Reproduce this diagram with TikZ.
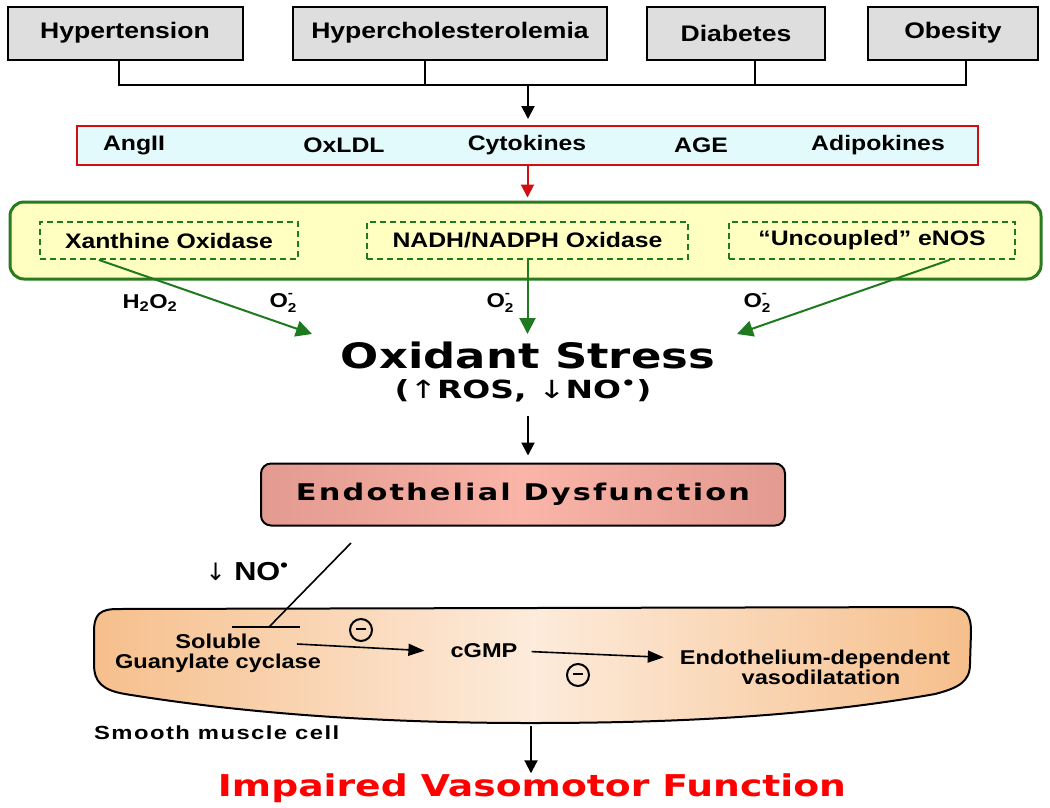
\documentclass[tikz,border=0pt]{standalone}
\usepackage{fontspec}
\usepackage{graphicx}
\setmainfont{Liberation Sans}[FakeStretch=1.18]
\newfontfamily\heavy{DejaVu Sans}
\newfontfamily\heavyspaced{DejaVu Sans}[LetterSpace=7]
\newfontfamily\smcfont{Liberation Sans}[LetterSpace=6]
\newfontfamily\arr{DejaVu Sans}
\usetikzlibrary{arrows.meta,calc}
\definecolor{boxgray}{HTML}{DEDEDE}
\definecolor{redb}{HTML}{D01010}
\definecolor{cyanf}{HTML}{E2FAFC}
\definecolor{greenb}{HTML}{2A7A1E}
\definecolor{yellowf}{HTML}{FFFFC2}
\definecolor{greena}{HTML}{1F7A1F}
\definecolor{endoA}{HTML}{E39A90}
\definecolor{endoB}{HTML}{FAB4A8}
\definecolor{cellA}{HTML}{F6BF8C}
\definecolor{cellB}{HTML}{FDEBDB}
\definecolor{impred}{HTML}{FF0000}
\newcommand{\fz}[1]{\fontsize{#1}{#1}\selectfont}
\newcommand{\Otwo}{O\rlap{\raisebox{0.9ex}{\fz{13}-}}\raisebox{-0.55ex}{\fz{13}2}}
\tikzset{
  topbox/.style={draw, line width=2pt, fill=boxgray, minimum height=53pt, inner sep=0pt, font=\fz{22.5}\bfseries},
  redtxt/.style={font=\fz{21}\bfseries, inner sep=0pt},
  dbox/.style={draw=greena, line width=1.8pt, dash pattern=on 6pt off 4pt, minimum height=37pt, inner sep=0pt, font=\fz{21}\bfseries},
  blackline/.style={line width=2pt, black},
  blackarrow/.style={line width=2pt, black, -{Triangle[width=13pt,length=13pt]}},
  greenarrow/.style={line width=2pt, greena, -{Triangle[width=16pt,length=16pt]}},
  lbl/.style={font=\fz{20}\bfseries, inner sep=0pt},
  celltxt/.style={font=\fz{20}\bfseries, inner sep=0pt, align=center},
  minus/.style={circle, draw, line width=2pt, minimum size=22pt, inner sep=0pt},
}
\begin{document}
\begin{tikzpicture}[x=1pt,y=-1pt]
\useasboundingbox (0,0) rectangle (1050,807);

% top boxes
\node[topbox, minimum width=235pt] (hyp) at (125,33) {Hypertension};
\node[topbox, minimum width=314pt] (hch) at (450,33) {Hypercholesterolemia};
\node[topbox, minimum width=178pt] (dia) at (736,33) {Diabetes};
\node[topbox, minimum width=170pt] (obe) at (953,33) {Obesity};
\coordinate (b1) at (119,85);
\coordinate (b2) at (425,85);
\coordinate (b3) at (755,85);
\coordinate (b4) at (966,85);
\coordinate (bus) at (528,85);
\draw[blackline] (b1 |- hyp.south) -- (b1) -- (b4) -- (b4 |- obe.south);
\draw[blackline] (b2 |- hch.south) -- (b2);
\draw[blackline] (b3 |- dia.south) -- (b3);

% red box
\node[draw=redb, line width=2pt, fill=cyanf, minimum width=901pt, minimum height=39pt, inner sep=0pt] (red) at (527.5,145.5) {};
\draw[blackarrow, shorten >=6pt] (bus) -- (bus |- red.north);
\node[redtxt] (t1) at (134,145) {AngII};
\node[redtxt] (t2) at (344,145) {OxLDL};
\node[redtxt] (t3) at (527,145) {Cytokines};
\node[redtxt] (t4) at (701,145) {AGE};
\node[redtxt] (t5) at (878,145) {Adipokines};

% green box
\node[draw=greenb, line width=3pt, fill=yellowf, rounded corners=14pt, minimum width=1031pt, minimum height=77pt, inner sep=0pt] (grn) at (525.5,240.5) {};
\draw[line width=2pt, redb, -{Triangle[width=13pt,length=13pt]}, shorten >=3pt] (red.south) -- (red.south |- grn.north);
\node[dbox, minimum width=258pt] (xo) at (169,240.5) {Xanthine Oxidase};
\node[dbox, minimum width=321pt] (nad) at (527.5,240.5) {NADH/NADPH Oxidase};
\node[dbox, minimum width=286pt] (unc) at (872,240.5) {“Uncoupled” eNOS};

\coordinate (g1) at (312,334);
\coordinate (g2) at (527.5,334);
\coordinate (g3) at (737,334);
\draw[greenarrow] ($(xo.south west)!0.23!(xo.south east)$) -- (g1);
\draw[greenarrow] (nad.south) -- (g2);
\draw[greenarrow] ($(unc.south west)!0.77!(unc.south east)$) -- (g3);
\node[lbl] (h2o2) at (150,303) {H\textsubscript{2}O\textsubscript{2}};
\node[lbl] (o1) at (283,303) {\Otwo};
\node[lbl] (o2) at (500,303) {\Otwo};
\node[lbl] (o3) at (757,303) {\Otwo};

% oxidant stress
\node[inner sep=0pt] (ox) at (528,355) {\resizebox{374pt}{\height}{\heavy\fz{35}\bfseries Oxidant Stress}};
\node[inner sep=0pt] (oxs) at (523,391) {\resizebox{257pt}{\height}{\heavy\fz{25}\bfseries ({\arr\mdseries ↑}ROS, {\arr\mdseries ↓}NO\textsuperscript{•})}};

% endothelial dysfunction
\node[draw, line width=2pt, rounded corners=10pt, minimum width=524pt, minimum height=62pt, inner sep=0pt,
      left color=endoA, right color=endoA, middle color=endoB] (endo) at (523,494.5)
      {\resizebox{454pt}{\height}{\heavyspaced\fz{23}\bfseries Endothelial Dysfunction}};
\draw[blackarrow, shorten <=14pt, shorten >=7pt] (oxs.south -| 528,0) -- (endo.north -| 528,0);

% smooth muscle cell
\path[draw, line width=2pt, left color=cellA, right color=cellA, middle color=cellB]
  (94,632) .. controls (94,614) and (100,609) .. (118,609)
  -- (948,607) .. controls (966,607) and (971,614) .. (971,632)
  -- (970,664) .. controls (970,682) and (958,688) .. (935,694)
  .. controls (800,718) and (660,723) .. (530,723)
  .. controls (400,723) and (260,716) .. (125,694)
  .. controls (102,690) and (94,682) .. (94,664) -- cycle;

\coordinate (lt) at (351,543);
\coordinate (lb) at (269,627);
\coordinate (barl) at (232,627);
\coordinate (barr) at (300,627);
\draw[line width=1.6pt] (lt) -- (lb);
\draw[line width=1.8pt] (barl) -- (barr);
\node[font=\fz{26}\bfseries, inner sep=0pt] (no) at (247,572) {{\arr\mdseries\fz{24}↓} NO\textsuperscript{•}};

\node[celltxt] (sgc) at (218,653) {Soluble\\[0pt]Guanylate cyclase};
\node[celltxt] (cgmp) at (484,651) {cGMP};
\node[celltxt] (edv) at (815,667) {Endothelium-dependent\\[0pt]\hspace*{12pt}vasodilatation};
\node[minus] (m1) at (361,630) {\rule[0.3ex]{10pt}{2.2pt}};
\node[minus] (m2) at (578,675) {\rule[0.3ex]{10pt}{2.2pt}};
\draw[line width=1.6pt, -{Triangle[width=12pt,length=16pt]}, shorten >=26pt] (297,644) -- (cgmp.west |- 0,652);
\draw[line width=1.6pt, -{Triangle[width=12pt,length=16pt]}, shorten <=14pt, shorten >=16pt] (cgmp.east |- 0,651) -- (edv.west |- 0,658);

\node[inner sep=0pt, anchor=west] (smc) at (94,733) {\resizebox{245pt}{\height}{\smcfont\fz{19}\bfseries Smooth muscle cell}};

\coordinate (cb) at (531,726);
\node[inner sep=0pt, text=impred] (imp) at (532,788) {\resizebox{628pt}{\height}{\heavy\fz{30}\bfseries Impaired Vasomotor Function}};
\draw[blackarrow] (cb) -- (cb |- imp.north);
\end{tikzpicture}
\end{document}
